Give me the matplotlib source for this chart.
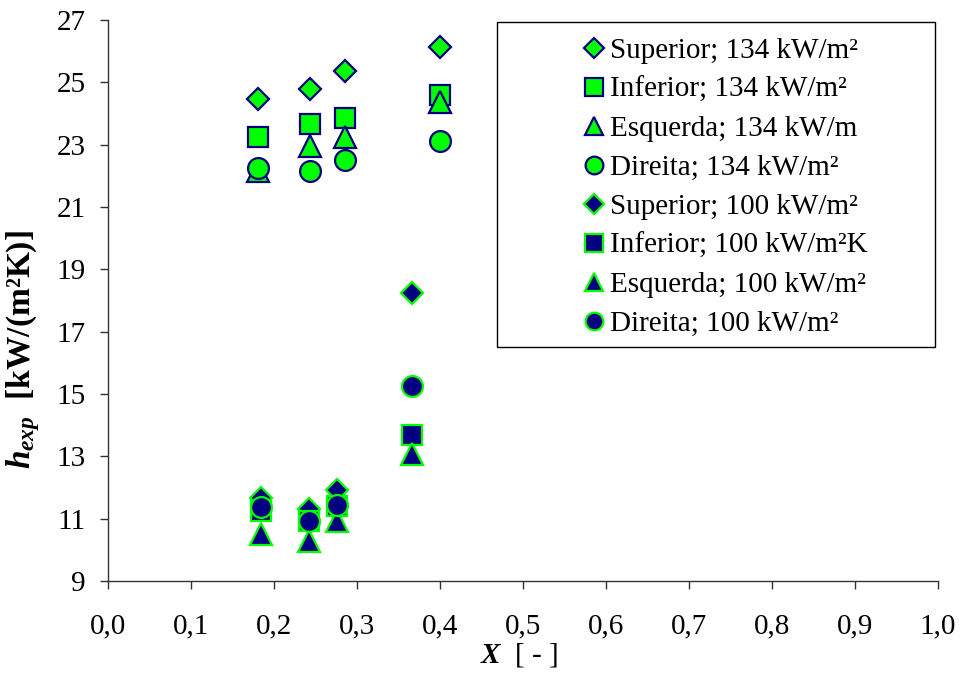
import numpy as np
import matplotlib
matplotlib.use("Agg")
import matplotlib.pyplot as plt
from matplotlib.patches import Rectangle

plt.rcParams["font.family"] = ["Liberation Serif", "DejaVu Serif"]
plt.rcParams["mathtext.fontset"] = "custom"
plt.rcParams["mathtext.it"] = "Liberation Serif:italic:bold"
plt.rcParams["mathtext.rm"] = "Liberation Serif:bold"
plt.rcParams["mathtext.bf"] = "Liberation Serif:bold"

GREEN = "#00FF00"
NAVY = "#000080"

# 134 kW/m2 series
x_134 = [0.181, 0.243, 0.286, 0.400]
sup_134 = [24.48, 24.78, 25.37, 26.14]
inf_134 = [23.23, 23.65, 23.87, 24.59]
esq_134 = [22.15, 22.96, 23.25, 24.37]
dir_134 = [22.25, 22.15, 22.50, 23.11]

# 100 kW/m2 series
x_100 = [0.184, 0.242, 0.276, 0.366]
sup_100 = [11.67, 11.32, 11.92, 18.25]
inf_100 = [11.26, 10.91, 11.42, 13.67]
esq_100 = [10.50, 10.29, 10.92, 13.09]
dir_100 = [11.37, 10.92, 11.43, 15.26]

series = [
    (x_134, sup_134, "D", "Superior; 134 kW/m²", GREEN, NAVY),
    (x_134, inf_134, "s", "Inferior; 134 kW/m²", GREEN, NAVY),
    (x_134, esq_134, "^", "Esquerda; 134 kW/m", GREEN, NAVY),
    (x_134, dir_134, "o", "Direita; 134 kW/m²", GREEN, NAVY),
    (x_100, sup_100, "D", "Superior; 100 kW/m²", NAVY, GREEN),
    (x_100, inf_100, "s", "Inferior; 100 kW/m²K", NAVY, GREEN),
    (x_100, esq_100, "^", "Esquerda; 100 kW/m²", NAVY, GREEN),
    (x_100, dir_100, "o", "Direita; 100 kW/m²", NAVY, GREEN),
]
sizes = {"D": 11.5, "s": 15, "^": 15.5, "o": 15}
FS = 21

fig = plt.figure(figsize=(9.61, 6.73), dpi=100)
ax = fig.add_axes([108 / 961, 1 - 581 / 673, 830 / 961, 561 / 673])

for xs, ys, m, lab, fc, ec in series:
    ax.plot(xs, ys, linestyle="none", marker=m, markersize=sizes[m],
            markerfacecolor=fc, markeredgecolor=ec, markeredgewidth=1.6,
            label=lab, clip_on=False)

ax.set_xlim(0, 1.0)
ax.set_ylim(9, 27)
ax.set_xticks(np.arange(0, 1.01, 0.1))
ax.set_xticklabels([f"{v:.1f}".replace(".", ",") for v in np.arange(0, 1.01, 0.1)])
ax.set_yticks(np.arange(9, 28, 2))

for s in ["top", "right"]:
    ax.spines[s].set_visible(False)
for s in ["left", "bottom"]:
    ax.spines[s].set_color("#333333")
    ax.spines[s].set_linewidth(1.0)

ax.tick_params(axis="x", direction="out", length=6, width=1, colors="#333333",
               labelcolor="black", labelsize=FS, pad=17)
ax.tick_params(axis="y", direction="out", length=6, width=1, colors="#333333",
               labelcolor="black", labelsize=FS, pad=10)

ax.set_xlabel(r"$X$  [ - ]", fontsize=FS)
ax.xaxis.set_label_coords(0.495, -0.132)
ax.xaxis.label.set_va("center")
ax.set_ylabel(r"$h_{exp}$  [kW/(m²K)]", fontsize=24, fontweight="bold")
ax.yaxis.set_label_coords(-0.079, 0.412)

ax.add_patch(Rectangle((0.4687, 0.4171), 0.5277, 0.5793, transform=ax.transAxes,
                       fill=False, edgecolor="black", linewidth=1.0, clip_on=False,
                       zorder=5))
ax.legend(loc="upper left", bbox_to_anchor=(0.5675, 0.968), frameon=False,
          fontsize=FS, borderpad=0, borderaxespad=0, handlelength=1.0,
          handletextpad=0.05, labelspacing=0.43, markerscale=0.85)

fig.savefig("out.png", dpi=100)
